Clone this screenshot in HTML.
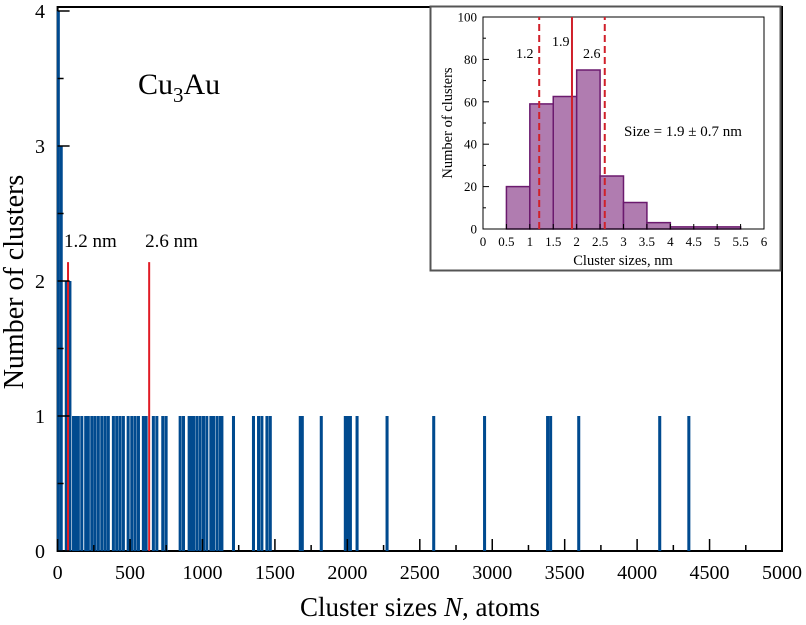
<!DOCTYPE html>
<html><head><meta charset="utf-8"><style>
html,body{margin:0;padding:0;background:#fff;}
svg{display:block;font-family:"Liberation Serif",serif;}
</style></head><body>
<svg id="c" width="806" height="625" viewBox="0 0 806 625"></svg>
<script>
// Main chart data (cluster size in atoms -> count)
const mainSizes = [5,25,60,85,110,125,143,167,194,212,236,258,281,305,328,350,385,408,431,454,487,512,535,558,592,611,661,685,726,749,846,869,908,927,938,961,984,1007,1030,1058,1076,1100,1123,1134,1214,1352,1387,1410,1445,1468,1675,1689,1820,1986,2002,2021,2067,2274,2596,2947,3382,3403,3597,4156,4357];
const mainCounts = [4,3,2,2,1,1,1,1,1,1,1,1,1,1,1,1,1,1,1,1,1,1,1,1,1,1,1,1,1,1,1,1,1,1,1,1,1,1,1,1,1,1,1,1,1,1,1,1,1,1,1,1,1,1,1,1,1,1,1,1,1,1,1,1,1];
const mainXTicks = [0,500,1000,1500,2000,2500,3000,3500,4000,4500,5000];
const mainYTicks = [0,1,2,3,4];
const markerSizes = [72,632];
const markerLabels = ["1.2 nm","2.6 nm"];
// Inset histogram data
const binStarts = [0.5,1,1.5,2,2.5,3,3.5,4,4.5,5];
const binCounts = [20,59,62.5,75,25,12.5,3,1,1,1];
const insetXTicks = ["0","0.5","1","1.5","2","2.5","3","3.5","4","4.5","5","5.5","6"];
const insetYTicks = [0,20,40,60,80,100];
const insetLines = [1.2,1.9,2.6];
const insetLineLabels = ["1.2","1.9","2.6"];

const NS="http://www.w3.org/2000/svg";
const svg=document.getElementById('c');
function el(t,a,txt){const e=document.createElementNS(NS,t);for(const k in a)e.setAttribute(k,a[k]);if(txt!==undefined)e.textContent=txt;svg.appendChild(e);return e;}

const X0=57.6,X1=782,Y0=551,Y1=11;
const mx=v=>X0+(v/5000)*(X1-X0);
const my=v=>Y0-(v/4)*(Y0-Y1);

let fr=el('rect',{x:X0,y:7,width:X1-X0,height:Y0-7,fill:'none',stroke:'#000','stroke-width':2});



mainSizes.forEach((s,i)=>{
  const w=mx(21)-mx(0);
  const r=el('rect',{x:mx(s)-w/2,y:my(mainCounts[i]),width:w,height:Y0-my(mainCounts[i]),fill:'#004a8f'});
  
  
});

markerSizes.forEach((s,i)=>{
  const l=el('line',{x1:mx(s),x2:mx(s),y1:Y0,y2:my(2.14),stroke:'#e01b24','stroke-width':2});
  
  
  const t=el('text',{x:mx(s)-4,y:247,'font-size':19,fill:'#000'},markerLabels[i]);
  
  
});

for(let v=0;v<=5000;v+=250){
  const major=v%500===0;
  const tk=el('line',{x1:mx(v),x2:mx(v),y1:Y0,y2:Y0-(major?12:6),stroke:'#000','stroke-width':1.5});
  
  
}
mainXTicks.forEach(v=>{
  const t=el('text',{x:mx(v),y:579,'font-size':20,'text-anchor':'middle'},String(v));
  
  
});
for(let v=0;v<=4;v+=0.5){
  const major=v%1===0;
  const tk=el('line',{x1:X0,x2:X0+(major?12:6),y1:my(v),y2:my(v),stroke:'#000','stroke-width':1.5});
  
  
}
mainYTicks.forEach(v=>{
  const t=el('text',{x:45,y:my(v)+7,'font-size':20,'text-anchor':'end'},String(v));
  
  
});
let xt=el('text',{x:420,y:616,'font-size':27,'text-anchor':'middle'});
xt.innerHTML='Cluster sizes <tspan font-style="italic">N</tspan>, atoms';


let yt=el('text',{x:0,y:0,'font-size':28,'text-anchor':'middle',transform:'translate(23,282) rotate(-90)'},'Number of clusters');


let cu=el('text',{x:138,y:94,'font-size':30});
cu.innerHTML='Cu<tspan font-size="21" dy="8">3</tspan><tspan dy="-8">Au</tspan>';



// inset
let ib=el('rect',{x:430.5,y:6.5,width:350,height:264,fill:'#fff',stroke:'#555','stroke-width':2});


const IX0=483,IX1=764,IY0=229,IY1=17;
const ix=v=>IX0+(v/6)*(IX1-IX0);
const iy=v=>IY0-(v/100)*(IY0-IY1);
binStarts.forEach((b,i)=>{
  const r=el('rect',{x:ix(b),y:iy(binCounts[i]),width:ix(b+0.5)-ix(b),height:IY0-iy(binCounts[i]),fill:'#b07cb0',stroke:'#6b1a6e','stroke-width':1.5});
  
  
});
let ifr=el('rect',{x:IX0,y:IY1,width:IX1-IX0,height:IY0-IY1,fill:'none',stroke:'#000','stroke-width':1});


insetLines.forEach((v,i)=>{
  const a={x1:ix(v),x2:ix(v),y1:IY0,y2:IY1,stroke:'#d0202a','stroke-width':2};
  if(i!==1)a['stroke-dasharray']='7,4';
  const l=el('line',a);
  
  
});
[[516,58],[552,46],[583,58]].forEach((p,i)=>{
  const t=el('text',{x:p[0],y:p[1],'font-size':14},insetLineLabels[i]);
  
  
});
for(let v=0;v<=6;v+=0.5){
  const tk=el('line',{x1:ix(v),x2:ix(v),y1:IY0,y2:IY0-5,stroke:'#000'});
  
  
}
insetXTicks.forEach(s=>{
  const t=el('text',{x:ix(parseFloat(s)),y:246,'font-size':13,'text-anchor':'middle'},s);
  
  
});
for(let v=0;v<=100;v+=10){
  const tk=el('line',{x1:IX0,x2:IX0+(v%20===0?6:3),y1:iy(v),y2:iy(v),stroke:'#000'});
  
  
}
insetYTicks.forEach(v=>{
  const t=el('text',{x:477,y:iy(v)+4.5,'font-size':13,'text-anchor':'end'},String(v));
  
  
});
let ixt=el('text',{x:623,y:265,'font-size':14.5,'text-anchor':'middle'},'Cluster sizes, nm');


let iyt=el('text',{x:0,y:0,'font-size':14.5,'text-anchor':'middle',transform:'translate(452,123) rotate(-90)'},'Number of clusters');


let sz=el('text',{x:624,y:136,'font-size':15},'Size = 1.9 \u00b1 0.7 nm');


</script>
</body></html>
